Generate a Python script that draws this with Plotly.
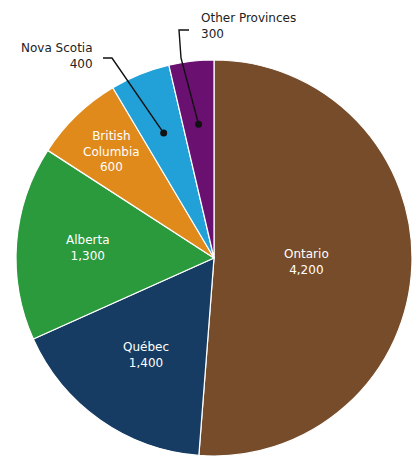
import math
import plotly.graph_objects as go

# ---- data ----
provinces = ["Ontario", "Québec", "Alberta", "British<br>Columbia", "Nova Scotia", "Other Provinces"]
values = [4200, 1400, 1300, 600, 400, 300]
value_labels = ["4,200", "1,400", "1,300", "600", "400", "300"]

# ---- styles ----
colors = ["#774c2b", "#163c63", "#2b9a3d", "#e08a1b", "#22a0d8", "#6a1070"]
W, H = 420, 457
CX, CY, R = 214, 258, 198          # pie centre / radius in pixels
inside_frac = [0.47, 0.60, 0.64, 0.75, None, None]
dot_frac = 0.68
FONT = "DejaVu Sans"

fig = go.Figure()
fig.add_trace(go.Pie(
    labels=provinces, values=values, sort=False, direction="clockwise", rotation=0,
    marker=dict(colors=colors, line=dict(color="white", width=1.2)),
    textinfo="none", hoverinfo="label+value", showlegend=False,
    domain=dict(x=[max(0, (CX - R) / W), min(1, (CX + R) / W)],
                y=[max(0, (H - CY - R) / H), min(1, (H - CY + R) / H)]),
))
# invisible trace to keep the cartesian axes alive for annotations/shapes
fig.add_trace(go.Scatter(x=[0, W], y=[0, H], mode="markers", marker=dict(opacity=0),
                         hoverinfo="skip", showlegend=False))

total = sum(values)
cum = 0
mids = []
for v in values:
    mids.append((cum + v / 2) / total * 2 * math.pi)
    cum += v

def pt(theta, frac):
    return CX + frac * R * math.sin(theta), CY - frac * R * math.cos(theta)

annotations = []
for i, f in enumerate(inside_frac):
    if f is None:
        continue
    x, y = pt(mids[i], f)
    annotations.append(dict(x=x, y=y, xref="x", yref="y", showarrow=False,
                            text=f"{provinces[i]}<br>{value_labels[i]}",
                            font=dict(family=FONT, size=12, color="white"), align="center"))

# outside labels with leader lines
ns_dot = pt(mids[4], dot_frac)
ot_dot = pt(mids[5], dot_frac)
leaders = [
    [(103, 58), (112, 58), ns_dot],
    [(189, 30), (179, 30), (181, 58), ot_dot],
]
shapes = []
for pts in leaders:
    path = "M " + " L ".join(f"{x:.1f},{y:.1f}" for x, y in pts)
    shapes.append(dict(type="path", path=path, xref="x", yref="y", layer="above",
                       line=dict(color="#111", width=1.4)))
for dx, dy in (ns_dot, ot_dot):
    shapes.append(dict(type="circle", xref="x", yref="y", layer="above",
                       x0=dx - 3.5, x1=dx + 3.5, y0=dy - 3.5, y1=dy + 3.5,
                       fillcolor="#111", line=dict(color="#111", width=0)))

annotations.append(dict(x=95, y=56, xref="x", yref="y", xanchor="right", yanchor="middle",
                        showarrow=False, align="right",
                        text=f"{provinces[4]}<br>{value_labels[4]}",
                        font=dict(family=FONT, size=12, color="#222")))
annotations.append(dict(x=199, y=26, xref="x", yref="y", xanchor="left", yanchor="middle",
                        showarrow=False, align="left",
                        text=f"{provinces[5]}<br>{value_labels[5]}",
                        font=dict(family=FONT, size=12, color="#222")))

fig.update_layout(
    width=W, height=H, margin=dict(l=0, r=0, t=0, b=0),
    paper_bgcolor="white", plot_bgcolor="rgba(0,0,0,0)",
    xaxis=dict(range=[0, W], visible=False, fixedrange=True),
    yaxis=dict(range=[H, 0], visible=False, fixedrange=True),
    annotations=annotations, shapes=shapes,
)
fig.write_html("out.html")
